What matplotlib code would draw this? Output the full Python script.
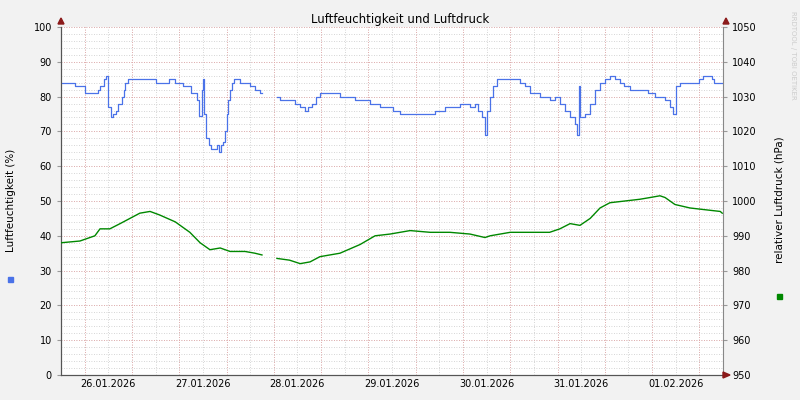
import numpy as np
import matplotlib
matplotlib.use("Agg")
import matplotlib.pyplot as plt
from matplotlib.ticker import MultipleLocator, FixedLocator

hum_t = [0,3.5,6,9.4,10,11,11.4,12,12.7,13.2,14,14.5,15.5,16,16.3,17,24,27.5,29,31,33,34.5,35,35.8,36,36.3,36.8,37.5,38,39.5,40.2,40.5,41,41.5,42,42.5,43,43.5,44,45.4,48,49.2,50.5,51,
         51.1,54.8,55.6,58,59.4,60.7,61.9,62.7,63.7,64.7,65.7,69.5,70.8,73.4,74.6,77.2,78.4,81,84.3,86,93.7,95,97.5,100,101.3,103.8,105,105.8,106.9,107.6,108,108.9,109.6,110.7,115.2,116.5,117.8,119,121.6,124,125.4,126.6,128,129.2,130.5,131,131.5,131.7,133,134.3,135.5,136.8,138,139.3,140.6,141.9,143,144.4,149,150.8,153.3,154.6,155.3,156,157,160.9,162,163,165.2,165.7,167.8]
hum_v = [84,83,81,82,83,85,86,77,74,75,76,78,80,82,84,85,84,85,84,83,81,79,74.5,82,85,75,68,66,65,66,64,66,67,70,75,79,82,84,85,84,83,82,81,81,
         np.nan,80,79,79,78,77,76,77,78,80,81,81,80,80,79,79,78,77,76,75,75,76,77,77,78,77,78,76,74,69,76,80,83,85,85,84,83,81,80,79,80,78,76,74,72,69,83,74,75,78,82,84,85,86,85,84,83,82,81,80,79,77,75,83,84,84,85,86,85,84,84]

pres_t = [0,4.8,8.6,9.9,12.4,15,17.5,20,22.6,25,29,32.7,35.3,37.8,40.4,42.9,46.7,49.2,51,52,54.8,58,60.7,63.2,65.7,70.8,75.9,79.7,83.5,88.6,93.7,98.7,103.8,107.6,108.9,114,119,124,126.6,129.2,131.7,134.3,136.8,139.3,143.1,146.9,149.5,152,153.3,155.8,159.6,163.4,167.3,167.8]
pres_v = [988,988.5,990,992,992,993.5,995,996.5,997,996,994,991,988,986,986.5,985.5,985.5,985,984.5,np.nan,983.5,983,982,982.5,984,985,987.5,990,990.5,991.5,991,991,990.5,989.5,990,991,991,991,992,993.5,993,995,998,999.5,1000,1000.5,1001,1001.5,1001,999,998,997.5,997,996.5]

day_labels = ["26.01.2026","27.01.2026","28.01.2026","29.01.2026","30.01.2026","31.01.2026","01.02.2026"]

fig = plt.figure(figsize=(8,4), dpi=100, facecolor="#f2f2f2")
ax = fig.add_axes([61/800, 25/400, 662/800, 348/400])
ax.set_facecolor("white")
ax.set_xlim(0, 168)
ax.set_ylim(0, 100)
ax2 = ax.twinx()
ax2.set_ylim(950, 1050)

# grid
for h in np.arange(0, 168, 6):
    ax.axvline(h, color="#c8c8c8", lw=0.6, ls=(0,(1,2)), zorder=0)
for y in np.arange(0, 101, 2):
    ax.axhline(y, color="#c8c8c8", lw=0.6, ls=(0,(1,2)), zorder=0)
for h in np.arange(6, 168, 12):
    ax.axvline(h, color="#e6a0a0", lw=0.6, ls=(0,(1,2)), zorder=0)
for y in np.arange(10, 101, 10):
    ax.axhline(y, color="#e6a0a0", lw=0.6, ls=(0,(1,2)), zorder=0)

ax.step(hum_t, hum_v, where="post", color="#4a72e8", lw=0.9, zorder=3)
ax2.plot(pres_t, pres_v, color="#008800", lw=1.0, zorder=3)

fs = 7
ax.yaxis.set_major_locator(MultipleLocator(10))
ax.set_xticks([12 + 24*i for i in range(7)])
ax.set_xticklabels(day_labels, fontsize=fs)
ax.tick_params(axis="y", labelsize=fs, length=3, color="#999999")
ax.tick_params(axis="x", length=0, pad=3)
ax2.yaxis.set_major_locator(MultipleLocator(10))
ax2.tick_params(axis="y", labelsize=fs, length=3, color="#999999")
for a in (ax, ax2):
    for s in ("top",):
        a.spines[s].set_visible(False)
ax.spines["right"].set_visible(False)
ax2.spines["left"].set_color("#555555")
ax2.spines["right"].set_color("#888888")
ax2.spines["bottom"].set_color("#555555")
ax.spines["bottom"].set_color("#555555")
ax.spines["left"].set_color("#555555")

# arrows
fig.patches.append(matplotlib.patches.Polygon([[58/800,1-24/400],[64/800,1-24/400],[61/800,1-18/400]], closed=True, transform=fig.transFigure, color="#8b1a1a"))
fig.patches.append(matplotlib.patches.Polygon([[723/800,1-24/400],[729/800,1-24/400],[726/800,1-18/400]], closed=True, transform=fig.transFigure, color="#8b1a1a"))
fig.patches.append(matplotlib.patches.Polygon([[723/800,1-372/400],[723/800,1-378/400],[730/800,1-375/400]], closed=True, transform=fig.transFigure, color="#8b1a1a"))

fig.text(0.5, 1-19/400, "Luftfeuchtigkeit und Luftdruck", ha="center", va="center", fontsize=8.5)
fig.text(11/800, 0.5, "Luftfeuchtigkeit (%)", rotation=90, ha="center", va="center", fontsize=7.5)
fig.text(780/800, 0.5, "relativer Luftdruck (hPa)", rotation=90, ha="center", va="center", fontsize=7.5)
fig.text(793/800, 1-55/400, "RRDTOOL / TOBI OETIKER", rotation=270, ha="center", va="center", fontsize=5, color="#cccccc")
fig.patches.append(matplotlib.patches.Rectangle((8/800, 1-282/400), 5/800, 5/400, transform=fig.transFigure, color="#4a72e8"))
fig.patches.append(matplotlib.patches.Rectangle((777/800, 1-299/400), 5/800, 5/400, transform=fig.transFigure, color="#008800"))

fig.savefig("out.png", dpi=100, facecolor=fig.get_facecolor())
